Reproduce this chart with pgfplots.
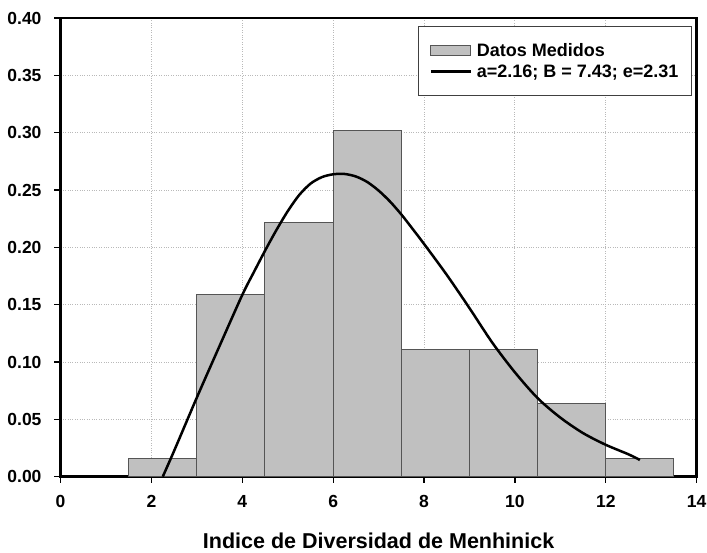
\documentclass[border=0pt]{standalone}
\usepackage{fontspec}
\setmainfont{Liberation Sans}
\usepackage{pgfplots}
\pgfplotsset{compat=1.18}
\definecolor{bargray}{RGB}{192,192,192}
\definecolor{baredge}{RGB}{85,85,85}
\definecolor{gridgray}{RGB}{185,185,185}
\pgfplotsset{
  barleg/.style={legend image code/.code={\draw[##1, line width=1pt] (0pt,-5pt) rectangle (40pt,5pt); \path[draw=none,fill=none] (0pt,0pt) -- (44pt,0pt);}},
  lineleg/.style={legend image code/.code={\draw[##1] (0pt,0pt) -- (40pt,0pt); \path[draw=none,fill=none] (0pt,0pt) -- (44pt,0pt);}},
}
\begin{document}
\begin{tikzpicture}
\path[use as bounding box] (-60.5pt,-75.3pt) rectangle (646.5pt,476.7pt);
\begin{axis}[
  at={(0pt,0pt)}, anchor=south west,
  width=636.2pt, height=458.7pt, scale only axis,
  xmin=0, xmax=14, ymin=0, ymax=0.40,
  xtick={0,2,4,6,8,10,12,14},
  ytick={0,0.05,0.10,0.15,0.20,0.25,0.30,0.35,0.40},
  /pgf/number format/assume math mode=true,
  tick label style={font=\bfseries\fontsize{17.5}{20}\selectfont},
  xticklabel style={yshift=-9.5pt},
  yticklabel style={xshift=-9.5pt, /pgf/number format/.cd, fixed, fixed zerofill, precision=2},
  xlabel={Indice de Diversidad de Menhinick},
  xlabel style={font=\bfseries\fontsize{21.5}{25}\selectfont,
    at={(axis description cs:0.5,0)}, anchor=base, yshift=-71.6pt},
  tick align=outside, xtick pos=bottom, ytick pos=left,
  major tick length=6pt,
  every tick/.style={black, line width=1.3pt},
  axis line style={line width=2.5pt},
  grid=major,
  major grid style={gridgray, dotted, line width=0.9pt},
  legend cell align=left,
  legend style={at={(rel axis cs:1,1)}, anchor=north east, xshift=-4.7pt, yshift=-8pt,
    draw=darkgray, line width=1pt, font=\bfseries\fontsize{18}{21}\selectfont,
    inner xsep=11pt, inner ysep=14.5pt, row sep=3pt},
]
\addplot[ybar interval, fill=bargray, draw=baredge, line width=1pt, barleg]
  coordinates {(1.5,0.016) (3,0.159) (4.5,0.222) (6,0.302) (7.5,0.111) (9,0.111) (10.5,0.064) (12,0.016) (13.5,0.016)};
\addlegendentry{Datos Medidos}
\addplot[black, line width=2.5pt, smooth, lineleg]
  coordinates {
  (2.25,0.0) (2.5,0.0225) (3.0,0.0690) (3.5,0.1140) (4.0,0.1585)
  (4.25,0.1780) (4.5,0.1970) (4.75,0.2150) (5.0,0.2315) (5.25,0.2455) (5.5,0.2555)
  (5.75,0.2612) (6.0,0.2637) (6.25,0.2640) (6.5,0.2618) (6.75,0.2570) (7.0,0.2495)
  (7.25,0.2400) (7.5,0.2287) (7.75,0.2160) (8.0,0.2030) (8.5,0.1760) (9.0,0.1470)
  (9.5,0.1170) (10.0,0.0910) (10.5,0.0685) (11.0,0.0515) (11.5,0.0380) (12.0,0.0278)
  (12.5,0.0195) (12.75,0.0146)};
\addlegendentry{a=2.16; B = 7.43; e=2.31}
\end{axis}
\end{tikzpicture}
\end{document}
